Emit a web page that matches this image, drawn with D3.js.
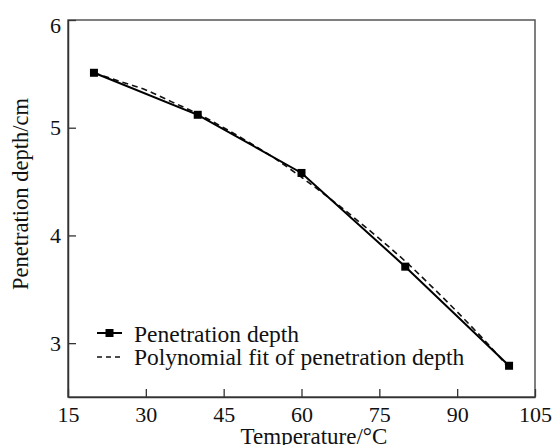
<!DOCTYPE html>
<html>
<head>
<meta charset="utf-8">
<script src="https://cdn.jsdelivr.net/npm/d3@7"></script>
<style>
  body { margin: 0; background: #fff; }
</style>
</head>
<body>
<svg id="chart"></svg>
<script>
// measured points
const temps = [20, 40, 60, 80, 100];
const depths = [5.51, 5.12, 4.58, 3.71, 2.79];

// polynomial fit curve
const fitTemps = [20, 25, 30, 35, 40, 45, 50, 55, 60, 65, 70, 75, 80, 85, 90, 95, 100];
const fitDepths = [5.51, 5.43, 5.35, 5.24, 5.13, 5.00, 4.86, 4.71, 4.54, 4.36, 4.17, 3.97, 3.76, 3.53, 3.29, 3.04, 2.77];

const xTicks = [15, 30, 45, 60, 75, 90, 105];
const yTicks = [3, 4, 5, 6];

const width = 554;
const height = 445;
const margin = { top: 20, right: 19, bottom: 48, left: 68 };
const serif = '"Liberation Serif", "Times New Roman", serif';

const svg = d3.select('#chart')
  .attr('width', width)
  .attr('height', height);

const x = d3.scaleLinear()
  .domain([15, 105])
  .range([margin.left, width - margin.right]);

const y = d3.scaleLinear()
  .domain([2.5, 6])
  .range([height - margin.bottom, margin.top]);

// frame
svg.append('rect')
  .attr('x', margin.left)
  .attr('y', margin.top)
  .attr('width', width - margin.left - margin.right)
  .attr('height', height - margin.top - margin.bottom)
  .attr('fill', 'none')
  .attr('stroke', '#555')
  .attr('stroke-width', 1.5);

const xAxis = svg.append('g')
  .attr('transform', `translate(0,${height - margin.bottom})`)
  .call(d3.axisBottom(x).tickValues(xTicks).tickFormat(d3.format('d'))
    .tickSizeInner(-8).tickSizeOuter(0).tickPadding(9));

const yAxis = svg.append('g')
  .attr('transform', `translate(${margin.left},0)`)
  .call(d3.axisLeft(y).tickValues(yTicks).tickFormat(d3.format('d'))
    .tickSizeInner(-8).tickSizeOuter(0).tickPadding(7));

[xAxis, yAxis].forEach(g => {
  g.select('.domain').attr('stroke', '#333').attr('stroke-width', 1.5);
  g.selectAll('.tick line').attr('stroke', '#333').attr('stroke-width', 1.3);
  g.selectAll('.tick text')
    .attr('fill', '#111')
    .style('font-family', serif)
    .style('font-size', '22px');
});
// top label sits a little lower than its tick, as in the source figure
yAxis.selectAll('.tick text').filter(d => d === 6).attr('dy', '0.55em');

// axis titles
svg.append('text')
  .attr('x', 314)
  .attr('y', 444)
  .attr('text-anchor', 'middle')
  .attr('fill', '#111')
  .style('font-family', serif)
  .style('font-size', '23px')
  .text('Temperature/°C');

svg.append('text')
  .attr('transform', 'translate(28,194) rotate(-90)')
  .attr('text-anchor', 'middle')
  .attr('fill', '#111')
  .style('font-family', serif)
  .style('font-size', '22.5px')
  .text('Penetration depth/cm');

const fitData = fitTemps.map((t, i) => ({ t, v: fitDepths[i] }));
const data = temps.map((t, i) => ({ t, v: depths[i] }));

// fit line
svg.append('path')
  .datum(fitData)
  .attr('d', d3.line().x(d => x(d.t)).y(d => y(d.v)).curve(d3.curveMonotoneX))
  .attr('fill', 'none')
  .attr('stroke', '#111')
  .attr('stroke-width', 1.6)
  .attr('stroke-dasharray', '6,4');

svg.append('path')
  .datum(data)
  .attr('d', d3.line().x(d => x(d.t)).y(d => y(d.v)))
  .attr('fill', 'none')
  .attr('stroke', '#000')
  .attr('stroke-width', 2);

svg.selectAll('.pt')
  .data(data)
  .enter().append('rect')
  .attr('class', 'pt')
  .attr('x', d => x(d.t) - 4)
  .attr('y', d => y(d.v) - 4)
  .attr('width', 8)
  .attr('height', 8)
  .attr('fill', '#000');

// legend
const legend = svg.append('g')
  .attr('transform', 'translate(97,333)');

legend.append('line')
  .attr('x1', 0).attr('x2', 25).attr('y1', 0).attr('y2', 0)
  .attr('stroke', '#000').attr('stroke-width', 2);
legend.append('rect')
  .attr('x', 8.5).attr('y', -4).attr('width', 8).attr('height', 8)
  .attr('fill', '#000');
legend.append('text')
  .attr('x', 37).attr('y', 8.5)
  .attr('fill', '#111')
  .style('font-family', serif)
  .style('font-size', '23.5px')
  .text('Penetration depth');

legend.append('line')
  .attr('x1', 0).attr('x2', 25).attr('y1', 24).attr('y2', 24)
  .attr('stroke', '#111').attr('stroke-width', 1.6)
  .attr('stroke-dasharray', '5,4');
legend.append('text')
  .attr('x', 37).attr('y', 32)
  .attr('fill', '#111')
  .style('font-family', serif)
  .style('font-size', '23.5px')
  .text('Polynomial fit of penetration depth');
</script>
</body>
</html>
